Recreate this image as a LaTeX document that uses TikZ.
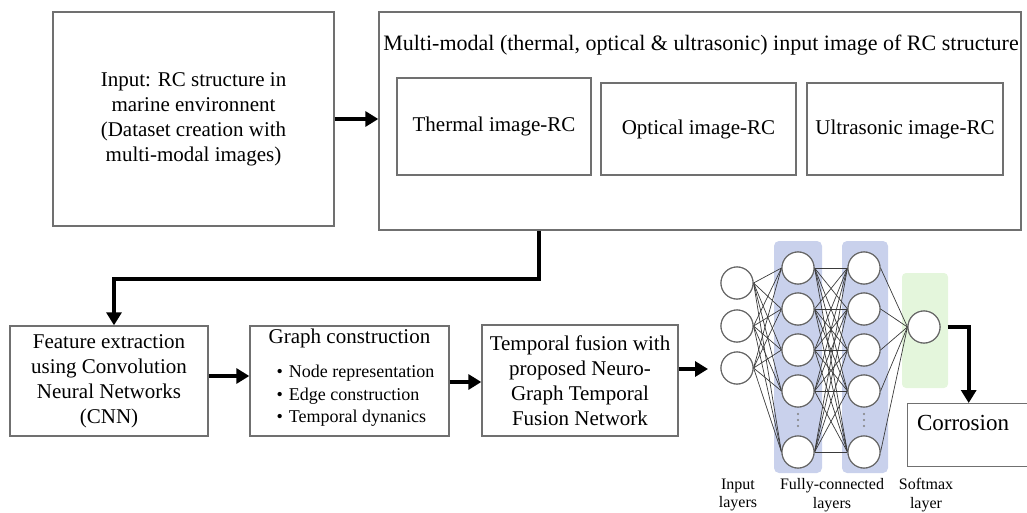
\documentclass[tikz,border=0pt]{standalone}
\usepackage{fontspec}
\setmainfont{Liberation Serif}
\usetikzlibrary{arrows.meta}
\definecolor{boxgray}{HTML}{707070}
\definecolor{layerblue}{HTML}{C9D1EC}
\definecolor{softgreen}{HTML}{E4F6DC}
\definecolor{linkgray}{HTML}{3A3A3A}
\begin{document}
\begin{tikzpicture}[x=1pt,y=-1pt,
  box/.style={draw=boxgray, line width=1.4pt, fill=white, inner sep=0pt, align=center,
    font=\fontsize{21}{25}\selectfont},
  inbox/.style={draw=boxgray, line width=1.1pt, fill=white, inner sep=0pt, align=center,
    font=\fontsize{21}{25}\selectfont},
  arr/.style={line width=4.4pt, -{Triangle[length=13pt,width=15pt]}},
  neuron/.style={circle, draw=black!60, line width=1.1pt, fill=white, minimum size=32pt, inner sep=0pt},
  link/.style={draw=linkgray, line width=0.7pt},
  lbl/.style={align=center, font=\fontsize{16}{18.5}\selectfont},
  vdot/.style={fill=black!50},
]
\useasboundingbox (0,0) rectangle (1027,513);

% top row
\node[box, minimum width=281pt, minimum height=214pt] (inp) at (193.5,119)
  {Input: RC structure in\\ marine environnent\\ (Dataset creation with\\ multi-modal images)};
\node[box, minimum width=642pt, minimum height=218pt] (mm) at (700,121) {};
\node[font=\fontsize{22}{26}\selectfont] (mmt) at (701,45)
  {Multi-modal (thermal, optical \& ultrasonic) input image of RC structure};
\node[inbox, minimum width=194pt, minimum height=97pt] (th) at (494,126.5) {Thermal image-RC};
\node[inbox, minimum width=195pt, minimum height=92pt] (op) at (698.5,129) {Optical image-RC};
\node[inbox, minimum width=196pt, minimum height=92pt] (us) at (905,129) {Ultrasonic image-RC};

\draw[arr] (inp.east) -- (inp.east -| mm.west);

% bottom row
\node[box, minimum width=198pt, minimum height=110pt] (feat) at (109,381)
  {Feature extraction\\ using Convolution\\ Neural Networks\\ (CNN)};
\node[box, minimum width=199pt, minimum height=110pt] (graph) at (349.5,381) {};
\node[font=\fontsize{21}{25}\selectfont] (gt) at (349.5,338) {Graph construction};
\node[anchor=west, align=left, font=\fontsize{18}{22.5}\selectfont] (gl) at (273,396)
  {\textbullet\hspace{6pt}Node representation\\ \textbullet\hspace{6pt}Edge construction\\ \textbullet\hspace{6pt}Temporal dynanics};
\node[box, minimum width=196pt, minimum height=111pt] (tf) at (580,380.5)
  {Temporal fusion with\\ proposed Neuro-\\ Graph Temporal\\ Fusion Network};

\draw[arr] ([xshift=-161pt]mm.south) -- ++(0,48) -| ([xshift=5pt]feat.north);
\draw[arr] ([yshift=5pt]feat.east) -- ([yshift=5pt]feat.east -| graph.west);
\draw[arr] ([yshift=-1pt]graph.east) -- ([yshift=-1pt]graph.east -| tf.west);
\coordinate (netin) at (708,369);
\draw[arr] (tf.east |- netin) -- (netin);

% network backgrounds
\fill[layerblue, rounded corners=5pt] (774,241) rectangle (822,473);
\fill[layerblue, rounded corners=5pt] (842,241) rectangle (888,473);
\fill[softgreen, rounded corners=4pt] (902,273) rectangle (948,388);

% neurons
\foreach \y [count=\i] in {283,326,368} \node[neuron] (i\i) at (737,\y) {};
\foreach \y [count=\i] in {268,309,350,391,452} {
  \node[neuron] (h\i) at (798,\y) {};
  \node[neuron] (g\i) at (864,\y) {};
}
\node[neuron] (o) at (924,327) {};

% links
\foreach \a in {1,2,3} \foreach \b in {1,...,5} \draw[link] (i\a.east) -- (h\b.west);
\foreach \a in {1,...,5} \foreach \b in {1,...,5} \draw[link] (h\a.east) -- (g\b.west);
\foreach \a in {1,...,5} \draw[link] (g\a.east) -- (o.west);

% redraw neurons on top
\foreach \y in {283,326,368} \node[neuron] at (737,\y) {};
\foreach \y in {268,309,350,391,452} {
  \node[neuron] at (798,\y) {};
  \node[neuron] at (864,\y) {};
}
\node[neuron] at (924,327) {};

% vertical ellipses
\foreach \x in {798,864} \foreach \y in {414,420,426} \fill[vdot] (\x,\y) circle (1.2pt);

% output
\node[box, anchor=north west, minimum width=125pt, minimum height=63pt] (cor) at (907,403) {};
\node[font=\fontsize{23}{27}\selectfont] (cort) at (963,423) {Corrosion};
\draw[arr] ([xshift=7pt]o.east) -| ([xshift=-1.5pt]cor.north);

% labels
\node[lbl] (l1) at (738,495) {Input\\ layers};
\node[lbl] (l2) at (832,495) {Fully-connected\\ layers};
\node[lbl] (l3) at (926,495) {Softmax\\ layer};
\end{tikzpicture}
\end{document}
